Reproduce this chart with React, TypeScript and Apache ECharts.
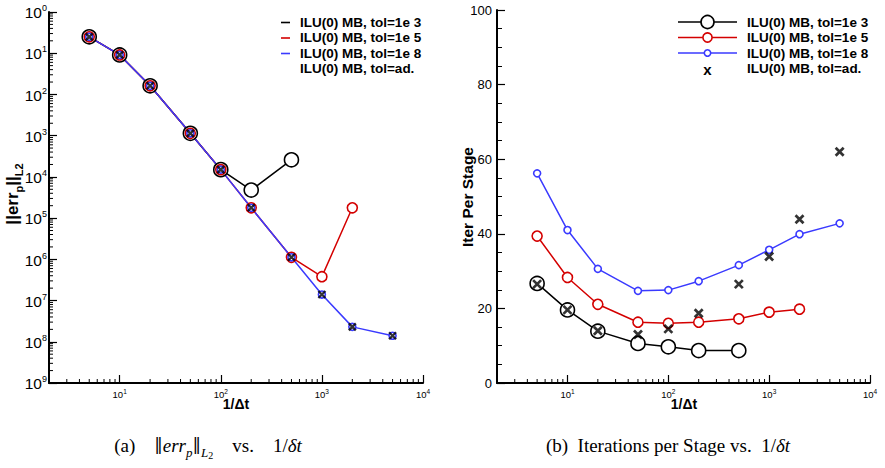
import React, { useEffect, useRef } from 'react';
import * as echarts from 'echarts';

// ---- data ----
const dtInv = [5, 10, 20, 50, 100, 200, 500, 1000, 2000, 5000];

// (a) pressure error, L2 norm
const errTol3 = [0.25, 0.091, 0.0162, 1.14e-3, 1.5e-4, 4.8e-5, 2.6e-4];
const errTol5 = [0.25, 0.091, 0.0162, 1.14e-3, 1.5e-4, 1.78e-5, 1.12e-6, 3.8e-7, 1.78e-5];
const errTol8 = [0.25, 0.091, 0.0162, 1.14e-3, 1.5e-4, 1.78e-5, 1.12e-6, 1.4e-7, 2.3e-8, 1.4e-8];
const errTolAd = [0.25, 0.091, 0.0162, 1.14e-3, 1.5e-4, 1.78e-5, 1.12e-6, 1.4e-7, 2.3e-8, 1.4e-8];

// (b) iterations per stage
const iterTol3 = [26.7, 19.6, 13.9, 10.6, 9.7, 8.7, 8.7];
const iterTol5 = [39.4, 28.3, 21.1, 16.3, 16.0, 16.3, 17.2, 19.0, 19.8];
const iterTol8 = [56.2, 41.0, 30.6, 24.7, 24.9, 27.3, 31.6, 35.7, 39.9, 42.8];
const iterTolAd = [26.5, 19.6, 14.0, 13.0, 14.5, 18.7, 26.5, 33.9, 43.9, 62.0];

const seriesNames = ['ILU(0) MB, tol=1e 3', 'ILU(0) MB, tol=1e 5', 'ILU(0) MB, tol=1e 8', 'ILU(0) MB, tol=ad.'];

const X_MIN = 2;
const X_MAX = 10000;
const ERR_MIN = 1e-9;
const ERR_MAX = 1;
const IT_MIN = 0;
const IT_MAX = 100;

const BLACK = '#000000';
const RED = '#d40000';
const BLUE = '#3a3aff';
const SANS = 'Liberation Sans, Arial, Helvetica, sans-serif';
const SERIF = 'Liberation Serif, Times New Roman, serif';

const pairs = (xs: number[], ys: number[]) => ys.map((y, i) => [xs[i], y]);

const minorLog = (lo: number, hi: number) => {
  const out: number[] = [];
  for (let d = Math.pow(10, Math.floor(Math.log10(lo))); d < hi; d *= 10) {
    for (let k = 2; k <= 9; k++) {
      const v = d * k;
      if (v > lo * 1.0001 && v < hi) out.push(v);
    }
  }
  return out;
};

const X_PATH = 'path://M0 0L10 10M10 0L0 10';

function circleSeries(name: string, data: number[][], color: string, size: number, xi: number) {
  return {
    name,
    type: 'line',
    xAxisIndex: xi,
    yAxisIndex: xi,
    data,
    symbol: 'circle',
    symbolSize: size,
    showAllSymbol: true,
    lineStyle: { color, width: 1.5 },
    itemStyle: { color: '#ffffff', borderColor: color, borderWidth: 1.6 },
    emphasis: { disabled: true },
  };
}

function crossSeries(name: string, data: number[][], size: number, bw: number, xi: number) {
  return {
    name,
    type: 'scatter',
    xAxisIndex: xi,
    yAxisIndex: xi,
    data,
    symbol: X_PATH,
    symbolSize: size,
    itemStyle: { color: BLACK, borderColor: BLACK, borderWidth: bw },
    emphasis: { disabled: true },
    z: 5,
  };
}

function minorXTicks(xi: number, yBase: number) {
  return {
    type: 'custom',
    xAxisIndex: xi,
    yAxisIndex: xi,
    silent: true,
    clip: false,
    data: minorLog(X_MIN, X_MAX).map((v) => [v, yBase]),
    renderItem: (_p: any, api: any) => {
      const pt = api.coord([api.value(0), api.value(1)]);
      return {
        type: 'line',
        shape: { x1: pt[0], y1: pt[1], x2: pt[0], y2: pt[1] - 4 },
        style: { stroke: BLACK, lineWidth: 1 },
      };
    },
    z: 1,
  };
}

function minorYTicksLog() {
  return {
    type: 'custom',
    xAxisIndex: 0,
    yAxisIndex: 0,
    silent: true,
    clip: false,
    data: minorLog(ERR_MIN, ERR_MAX).map((v) => [X_MIN, v]),
    renderItem: (_p: any, api: any) => {
      const pt = api.coord([api.value(0), api.value(1)]);
      return {
        type: 'line',
        shape: { x1: pt[0], y1: pt[1], x2: pt[0] + 4, y2: pt[1] },
        style: { stroke: BLACK, lineWidth: 1 },
      };
    },
    z: 1,
  };
}

const supRich = (base: number, sup: number) => ({
  b: { fontSize: base, fontFamily: SANS, color: BLACK, verticalAlign: 'bottom', lineHeight: base + 2 },
  s: { fontSize: sup, fontFamily: SANS, color: BLACK, verticalAlign: 'bottom', lineHeight: sup + 1, padding: [0, 0, Math.round(base * 0.5), 0] },
});

const logXAxis = (gi: number) => ({
  type: 'log',
  gridIndex: gi,
  logBase: 10,
  min: X_MIN,
  max: X_MAX,
  splitNumber: 10,
  axisLine: { show: true, lineStyle: { color: BLACK, width: 2 } },
  axisTick: { show: true, inside: true, length: 8, lineStyle: { color: BLACK, width: 1.2 } },
  splitLine: { show: false },
  axisLabel: {
    showMinLabel: false,
    margin: 5,
    formatter: (v: number) => `{b|10}{s|${Math.round(Math.log10(v))}}`,
    rich: supRich(9.5, 6.5),
  },
});

function legendGraphics(x0: number, withMarkers: boolean) {
  const rows = [22, 37.5, 53, 68.5];
  const cols = [BLACK, RED, BLUE];
  const radii = [6.5, 4.6, 3.2];
  const els: any[] = [];
  seriesNames.forEach((name, i) => {
    const y = rows[i];
    if (i < 3) {
      if (withMarkers) {
        els.push({ type: 'line', shape: { x1: x0 - 69, y1: y, x2: x0 - 10, y2: y }, style: { stroke: cols[i], lineWidth: 1.6 } });
        els.push({ type: 'circle', shape: { cx: x0 - 39.5, cy: y, r: radii[i] }, style: { fill: '#fff', stroke: cols[i], lineWidth: 1.6 } });
      } else {
        els.push({ type: 'line', shape: { x1: x0 - 19, y1: y + 0.5, x2: x0 - 10, y2: y + 0.5 }, style: { stroke: cols[i], lineWidth: 1.6 } });
      }
    } else if (withMarkers) {
      els.push({
        type: 'text', x: x0 - 39.5, y: y + 1,
        style: { text: 'x', fontFamily: SANS, fontWeight: 'bold', fontSize: 15, fill: BLACK, align: 'center', verticalAlign: 'middle' },
      });
    }
    els.push({
      type: 'text', x: x0, y,
      style: { text: name, fontFamily: SANS, fontWeight: 'bold', fontSize: 13.5, fill: BLACK, align: 'left', verticalAlign: 'middle' },
    });
  });
  return els;
}

export default function App() {
  const ref = useRef<HTMLDivElement>(null);

  useEffect(() => {
    if (!ref.current) return;
    const chart = echarts.init(ref.current, null, { renderer: 'svg' });

    const capR = { fontFamily: SERIF, fontSize: 19, fill: BLACK, verticalAlign: 'top', lineHeight: 21 };
    const capI = { ...capR, fontStyle: 'italic' };
    const capN = { ...capR, fontFamily: 'DejaVu Serif, serif', fontSize: 17 };

    const option: any = {
      animation: false,
      backgroundColor: '#ffffff',
      textStyle: { fontFamily: SANS },
      grid: [
        { left: 49, top: 12, width: 374, height: 371 },
        { left: 497, top: 10, width: 373, height: 373 },
      ],
      xAxis: [logXAxis(0), logXAxis(1)],
      yAxis: [
        {
          type: 'log',
          gridIndex: 0,
          logBase: 10,
          min: ERR_MIN,
          max: ERR_MAX,
          splitNumber: 10,
          axisLine: { show: true, lineStyle: { color: BLACK, width: 2 } },
          axisTick: { show: true, inside: true, length: 8, lineStyle: { color: BLACK, width: 1.2 } },
          splitLine: { show: false },
          axisLabel: {
            margin: 2,
            formatter: (v: number) => `{b|10}{s|${Math.abs(Math.round(Math.log10(v)))}}`,
            rich: supRich(15.5, 9),
          },
        },
        {
          type: 'value',
          gridIndex: 1,
          min: IT_MIN,
          max: IT_MAX,
          interval: 20,
          axisLine: { show: true, lineStyle: { color: BLACK, width: 2 } },
          axisTick: { show: true, inside: true, length: 8, lineStyle: { color: BLACK, width: 1.2 } },
          minorTick: { show: true, splitNumber: 4, length: 5, lineStyle: { color: BLACK, width: 1 } },
          splitLine: { show: false },
          minorSplitLine: { show: false },
          axisLabel: { margin: 5, fontSize: 13, color: BLACK, fontFamily: SANS },
        },
      ],
      series: [
        minorXTicks(0, ERR_MIN),
        minorYTicksLog(),
        minorXTicks(1, IT_MIN),
        circleSeries(seriesNames[0], pairs(dtInv, errTol3), BLACK, 14, 0),
        circleSeries(seriesNames[1], pairs(dtInv, errTol5), RED, 10, 0),
        circleSeries(seriesNames[2], pairs(dtInv, errTol8), BLUE, 7, 0),
        crossSeries(seriesNames[3], pairs(dtInv, errTolAd), 7, 2.3, 0),
        circleSeries(seriesNames[0], pairs(dtInv, iterTol3), BLACK, 14, 1),
        circleSeries(seriesNames[1], pairs(dtInv, iterTol5), RED, 10, 1),
        circleSeries(seriesNames[2], pairs(dtInv, iterTol8), BLUE, 7, 1),
        crossSeries(seriesNames[3], pairs(dtInv, iterTolAd), 8, 2.7, 1),
      ],
      graphic: [
        ...legendGraphics(300, false),
        ...legendGraphics(747, true),
        {
          type: 'text', x: 236, y: 404,
          style: { text: '1/Δt', fontFamily: SANS, fontWeight: 'bold', fontSize: 14, fill: BLACK, align: 'center', verticalAlign: 'middle' },
        },
        {
          type: 'text', x: 684, y: 404,
          style: { text: '1/Δt', fontFamily: SANS, fontWeight: 'bold', fontSize: 14, fill: BLACK, align: 'center', verticalAlign: 'middle' },
        },
        {
          type: 'text', x: 13, y: 194, rotation: Math.PI / 2,
          style: {
            text: '{a|||err}{s|p}{a|||}{s|L2}',
            align: 'center', verticalAlign: 'middle',
            rich: {
              a: { fontFamily: SANS, fontWeight: 'bold', fontSize: 17, fill: BLACK, verticalAlign: 'top', lineHeight: 18 },
              s: { fontFamily: SANS, fontWeight: 'bold', fontSize: 11, fill: BLACK, verticalAlign: 'top', lineHeight: 12, padding: [9, 0, 0, 0] },
            },
          },
        },
        {
          type: 'text', x: 467, y: 197, rotation: Math.PI / 2,
          style: { text: 'Iter Per Stage', fontFamily: SANS, fontWeight: 'bold', fontSize: 15.5, fill: BLACK, align: 'center', verticalAlign: 'middle' },
        },
        {
          type: 'text', x: 208, y: 446,
          style: {
            text: '{r|(a)    }{n|‖}{i|err}{is|p}{n|‖}{is|L}{ss|2}{r|    vs.    1/}{i|δt}',
            align: 'center', verticalAlign: 'middle',
            rich: {
              r: capR,
              i: capI,
              n: capN,
              is: { fontFamily: SERIF, fontStyle: 'italic', fontSize: 13, fill: BLACK, verticalAlign: 'top', lineHeight: 14, padding: [10, 0, 0, 0] },
              ss: { fontFamily: SERIF, fontSize: 10, fill: BLACK, verticalAlign: 'top', lineHeight: 11, padding: [15, 0, 0, 0] },
            },
          },
        },
        {
          type: 'text', x: 668, y: 446,
          style: {
            text: '{r|(b)  Iterations per Stage vs.  1/}{i|δt}',
            align: 'center', verticalAlign: 'middle',
            rich: { r: capR, i: capI },
          },
        },
      ],
    };

    chart.setOption(option);
    return () => chart.dispose();
  }, []);

  return (
    <div
      ref={ref}
      style={{ position: 'fixed', left: 0, top: 0, width: 885, height: 468, background: '#fff' }}
    />
  );
}
